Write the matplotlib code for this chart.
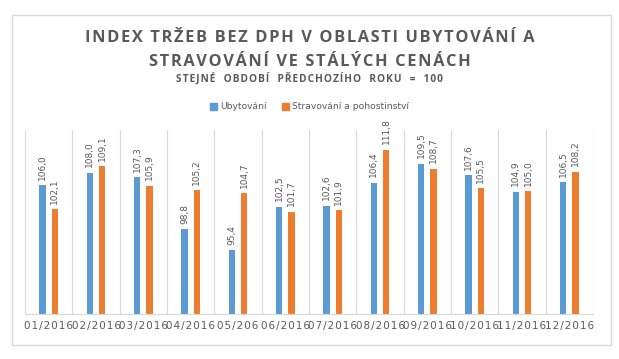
import matplotlib
matplotlib.use("Agg")
import matplotlib.pyplot as plt
from matplotlib.patches import Rectangle, Patch
import numpy as np

categories = ["01/2016", "02/2016", "03/2016", "04/2016", "05/206", "06/2016",
              "07/2016", "08/2016", "09/2016", "10/2016", "11/2016", "12/2016"]
ubytovani = [106.0, 108.0, 107.3, 98.8, 95.4, 102.5, 102.6, 106.4, 109.5, 107.6, 104.9, 106.5]
stravovani = [102.1, 109.1, 105.9, 105.2, 104.7, 101.7, 101.9, 111.8, 108.7, 105.5, 105.0, 108.2]
series_names = ["Ubytování", "Stravování a pohostinství"]

BLUE = "#5B9BD5"
ORANGE = "#ED7D31"
GRAY = "#595959"
GRID = "#D9D9D9"

W, H = 619, 359
fig = plt.figure(figsize=(W / 100, H / 100), dpi=100)


def spaced(s, sep="\u200a"):
    return sep.join(s)


# outer chart frame
fig.patches.append(Rectangle((12 / W, 1 - 345 / H), (611 - 12) / W, (345 - 15) / H,
                             transform=fig.transFigure, fill=False, edgecolor=GRID, lw=1))

ax = fig.add_axes([25 / W, 1 - 314 / H, (593 - 25) / W, (314 - 130) / H])
x = np.arange(len(categories))
bw = 0.14
off = 0.13
b1 = ax.bar(x - off, ubytovani, bw, color=BLUE)
b2 = ax.bar(x + off, stravovani, bw, color=ORANGE)


def fmt(v):
    return f"{v:.1f}".replace(".", ",")


ax.bar_label(b1, labels=[fmt(v) for v in ubytovani], rotation=90, padding=4,
             fontsize=6.5, color=GRAY)
ax.bar_label(b2, labels=[fmt(v) for v in stravovani], rotation=90, padding=4,
             fontsize=6.5, color=GRAY)

ax.set_ylim(85, 115)
ax.set_xlim(-0.5, len(categories) - 0.5)
for s in ["top", "right", "left"]:
    ax.spines[s].set_visible(False)
ax.spines["bottom"].set_color(GRID)
ax.set_yticks([])
ax.set_xticks(x)
ax.set_xticklabels([spaced(c) for c in categories], fontsize=7.5, color=GRAY,
                   family="DejaVu Sans")
ax.tick_params(axis="x", length=0, pad=5)
for b in np.arange(-0.5, len(categories), 1.0):
    ax.axvline(b, color=GRID, lw=0.8, zorder=0)
ax.set_facecolor("none")

tfam = ["Open Sans", "DejaVu Sans"]
fig.text(0.5, 1 - 42 / H, spaced("INDEX TRŽEB BEZ DPH V OBLASTI UBYTOVÁNÍ A"),
         ha="center", va="baseline", fontsize=11.8, fontweight="bold", color=GRAY,
         family=tfam)
fig.text(0.5, 1 - 66 / H, spaced("STRAVOVÁNÍ VE STÁLÝCH CENÁCH"),
         ha="center", va="baseline", fontsize=11.8, fontweight="bold", color=GRAY,
         family=tfam)
fig.text(0.5, 1 - 82 / H, spaced("STEJNÉ  OBDOBÍ  PŘEDCHOZÍHO  ROKU  =  100"),
         ha="center", va="baseline", fontsize=7.3, fontweight="bold", color=GRAY,
         family=tfam)

handles = [Patch(color=BLUE), Patch(color=ORANGE)]
fig.legend(handles, series_names, loc="center", bbox_to_anchor=(0.5, 1 - 107 / H),
           ncol=2, frameon=False, fontsize=6.6, handlelength=0.75, handleheight=0.75,
           columnspacing=1.7, handletextpad=0.35, labelcolor=GRAY)

fig.savefig("out.png", dpi=100)
